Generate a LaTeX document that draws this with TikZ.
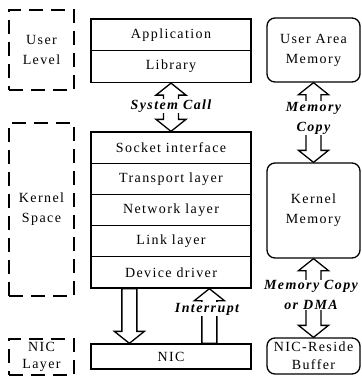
\documentclass[tikz,border=0pt]{standalone}
\usepackage{fontspec}
\setmainfont{Liberation Serif}[LetterSpace=10]
\usetikzlibrary{calc}
\begin{document}
\begin{tikzpicture}[x=1pt,y=-1pt]
    \tikzstyle{layer}=[draw=black,line width=1.3pt,minimum width=160pt,minimum height=31.2pt,inner sep=0pt,font=\fontsize{14}{20}\selectfont]
    \tikzstyle{mem}=[draw=black,line width=1.3pt,rounded corners=8pt,minimum width=93pt,inner sep=0pt,align=center,font=\fontsize{14}{20}\selectfont]
    \tikzstyle{level}=[draw=black,line width=1.8pt,dash pattern=on 14pt off 8pt,minimum width=65pt,inner sep=0pt,align=center,font=\fontsize{14}{20}\selectfont]
    \tikzstyle{lbl}=[fill=white,inner sep=0.5pt,align=center,font=\fontsize{14}{20}\selectfont\bfseries\itshape]

    \def\shaftw{7.5pt}
    \def\headw{15pt}
    \def\headlen{12pt}

    % hollow arrow, one head at the target
    \tikzstyle{fat}=[draw=black,line width=1.3pt,line join=miter,
      to path={let \p1=(\tikztostart), \p2=(\tikztotarget),
                   \p3=($(\p2)!\headlen!(\p1)$) in
        -- (\x1-\shaftw,\y1) -- (\x1-\shaftw,\y3) -- (\x1-\headw,\y3) -- (\x2,\y2)
        -- (\x1+\headw,\y3) -- (\x1+\shaftw,\y3) -- (\x1+\shaftw,\y1) -- cycle}]
    % hollow arrow, heads at both ends
    \tikzstyle{fatboth}=[draw=black,line width=1.3pt,line join=miter,
      to path={let \p1=(\tikztostart), \p2=(\tikztotarget),
                   \p3=($(\p1)!\headlen!(\p2)$), \p4=($(\p2)!\headlen!(\p1)$) in
        -- (\x1-\headw,\y3) -- (\x1-\shaftw,\y3) -- (\x1-\shaftw,\y4) -- (\x1-\headw,\y4) -- (\x2,\y2)
        -- (\x1+\headw,\y4) -- (\x1+\shaftw,\y4) -- (\x1+\shaftw,\y3) -- (\x1+\headw,\y3) -- cycle}]

    \useasboundingbox (0,0) rectangle (362,376);

    % levels
    \node[level,minimum height=80pt]  (ulev) at (41.5,50) {User\\Level};
    \node[level,minimum height=173pt] (klev) at (41.5,209.5) {Kernel\\Space};
    \node[level,minimum height=36pt,font=\fontsize{14}{17}\selectfont] (nlev) at (41.5,357) {NIC\\Layer};

    % protocol stack
    \node[layer,minimum height=31.75pt] (app) at (171,34.9) {Application};
    \node[layer,minimum height=31.75pt] (lib) at (171,66.6) {Library};

    \node[layer] (sock) at (171,147.6) {Socket interface};
    \node[layer] (trans) at (171,178.8) {Transport layer};
    \node[layer] (net) at (171,210) {Network layer};
    \node[layer] (link) at (171,241.2) {Link layer};
    \node[layer] (drv) at (171,272.4) {Device driver};

    \node[layer,minimum height=25pt] (nic) at (171,356.5) {NIC};

    % memory
    \node[mem,minimum height=64pt] (uam) at (313.5,50) {User Area\\Memory};
    \node[mem,minimum height=95pt] (kmem) at (313.5,210.5) {Kernel\\Memory};
    \node[mem,minimum height=36pt,font=\fontsize{14}{18}\selectfont] (buf) at (313.5,356) {NIC-Reside\\Buffer};

    % arrows
    \draw[fatboth] (lib.south) to (sock.north);
    \draw[fat] ([xshift=39pt]drv.south west) to ([xshift=39pt]nic.north west);
    \draw[fat] ([xshift=119pt]nic.north west) to ([xshift=119pt]drv.south west);
    \draw[fatboth] (uam.south) to (kmem.north);
    \draw[fatboth] (kmem.south) to (buf.north);

    \node[lbl] (sysc) at (171,106) {System Call};
    \node[lbl] (intr) at (207,309) {Interrupt};
    \node[lbl] (mcpy) at (313.5,118) {Memory\\Copy};
    \node[lbl] (dma) at (311,295) {Memory Copy\\or DMA};
\end{tikzpicture}
\end{document}
